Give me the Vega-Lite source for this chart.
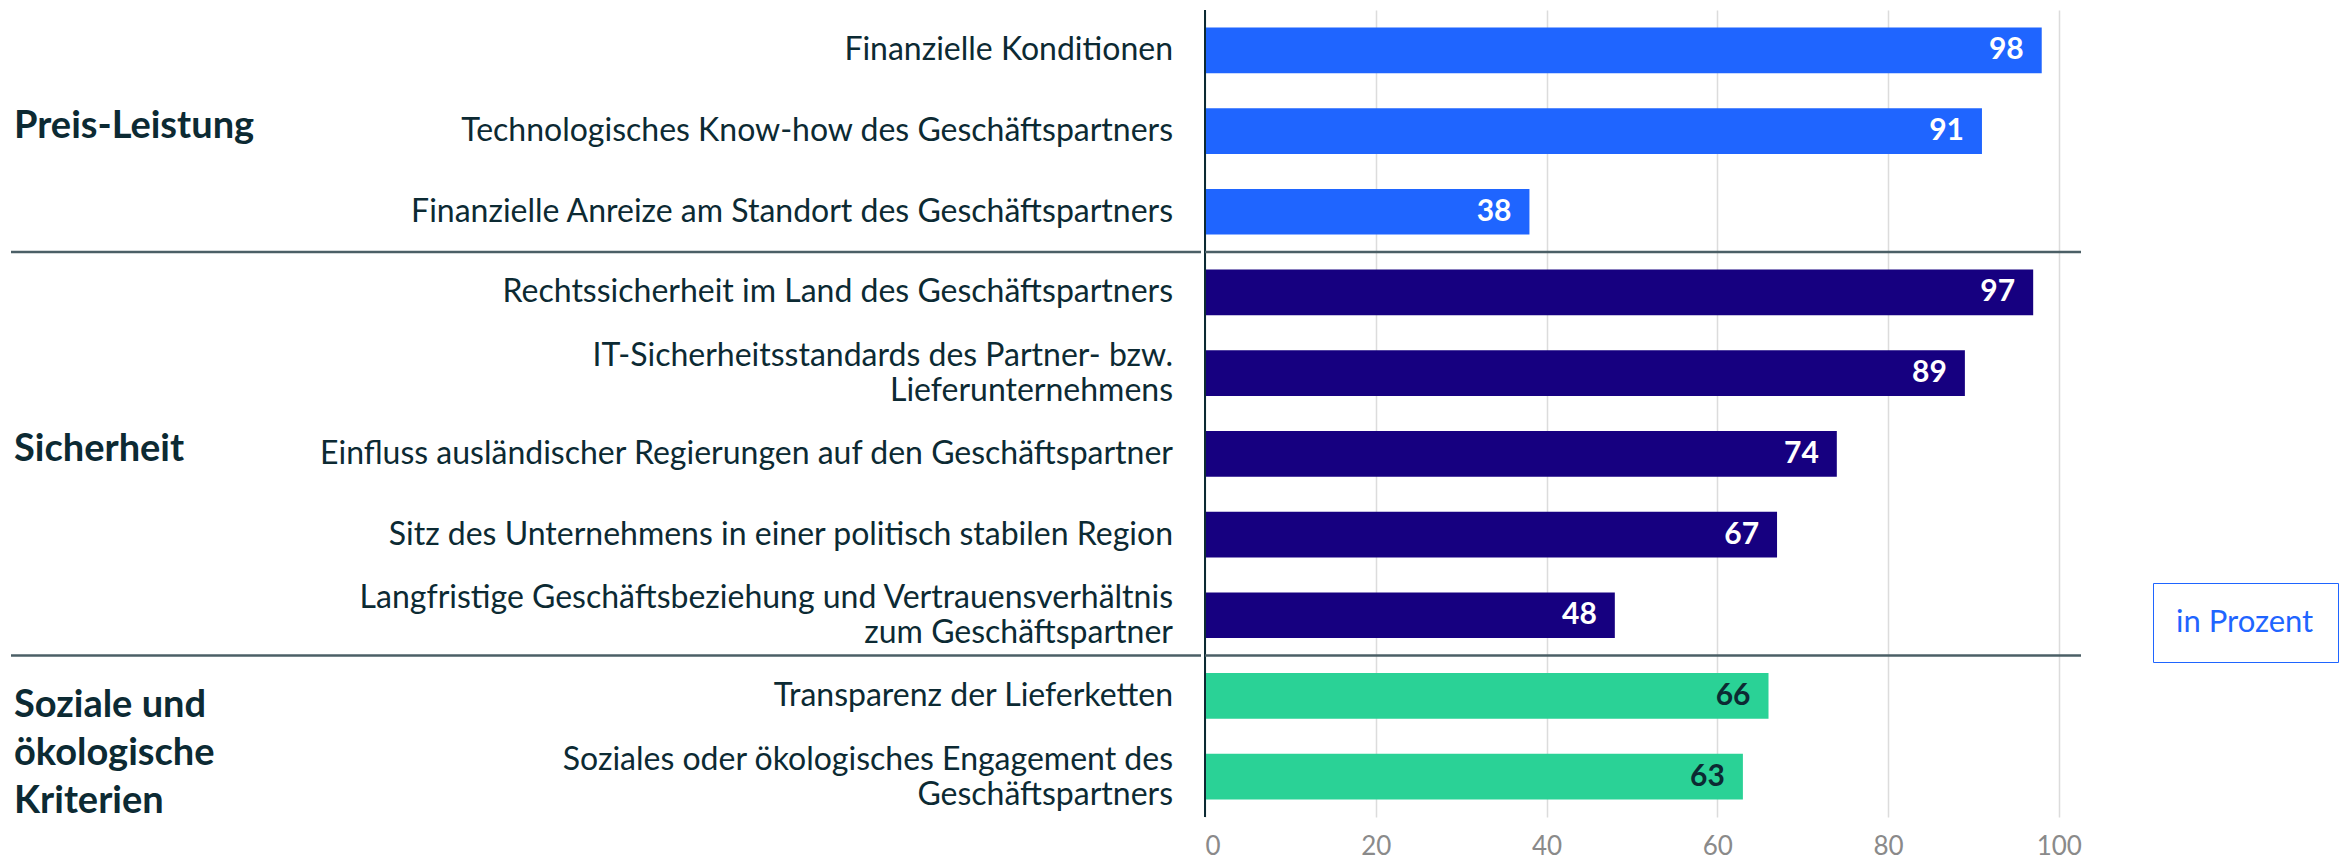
{
  "$schema": "https://vega.github.io/schema/vega-lite/v6.json",
  "padding": {"left": 9, "top": 9, "right": 0, "bottom": 0},
  "background": "white",
  "config": {"font": "Lato", "view": {"stroke": null}},
  "spacing": 0,
  "datasets": {
    "items": [
      {"rank": 0, "group": "Preis-Leistung", "item": "Finanzielle Konditionen", "value": 98},
      {"rank": 1, "group": "Preis-Leistung", "item": "Technologisches Know-how des Geschäftspartners", "value": 91},
      {"rank": 2, "group": "Preis-Leistung", "item": "Finanzielle Anreize am Standort des Geschäftspartners", "value": 38},
      {"rank": 3, "group": "Sicherheit", "item": "Rechtssicherheit im Land des Geschäftspartners", "value": 97},
      {"rank": 4, "group": "Sicherheit", "item": "IT-Sicherheitsstandards des Partner- bzw.\nLieferunternehmens", "value": 89},
      {"rank": 5, "group": "Sicherheit", "item": "Einfluss ausländischer Regierungen auf den Geschäftspartner", "value": 74},
      {"rank": 6, "group": "Sicherheit", "item": "Sitz des Unternehmens in einer politisch stabilen Region", "value": 67},
      {"rank": 7, "group": "Sicherheit", "item": "Langfristige Geschäftsbeziehung und Vertrauensverhältnis\nzum Geschäftspartner", "value": 48},
      {"rank": 8, "group": "Soziale und\nökologische\nKriterien", "item": "Transparenz der Lieferketten", "value": 66},
      {"rank": 9, "group": "Soziale und\nökologische\nKriterien", "item": "Soziales oder ökologisches Engagement des\nGeschäftspartners", "value": 63}
    ]
  },
  "hconcat": [
    {
      "width": 1190,
      "height": 807,
      "data": {"name": "items"},
      "layer": [
        {
          "transform": [
            {"aggregate": [{"op": "min", "field": "rank", "as": "start"}], "groupby": ["group"]},
            {"filter": "datum.start > 0"}
          ],
          "mark": {"type": "rule", "color": "#4b5f66", "strokeWidth": 2.5},
          "encoding": {
            "y": {"field": "start", "type": "quantitative", "scale": {"domain": [0, 10], "reverse": true, "nice": false, "zero": false}, "axis": null}
          }
        },
        {
          "transform": [
            {"aggregate": [{"op": "mean", "field": "rank", "as": "mid"}], "groupby": ["group"]},
            {"filter": "indexof(datum.group, '\\n') < 0"}
          ],
          "mark": {"type": "text", "align": "left", "baseline": "middle", "fontWeight": "bold", "fontSize": 38, "lineHeight": 48, "lineBreak": "\n", "color": "#0c2a33", "dx": 3, "dy": -4},
          "encoding": {
            "x": {"datum": 0, "type": "quantitative", "scale": {"domain": [0, 1]}, "axis": null},
            "y": {"field": "mid", "type": "quantitative", "scale": {"domain": [-0.5, 9.5], "reverse": true, "nice": false, "zero": false}, "axis": null},
            "text": {"field": "group", "type": "nominal"}
          }
        },
        {
          "transform": [
            {"aggregate": [{"op": "mean", "field": "rank", "as": "mid"}], "groupby": ["group"]},
            {"filter": "indexof(datum.group, '\\n') >= 0"}
          ],
          "mark": {"type": "text", "align": "left", "baseline": "middle", "fontWeight": "bold", "fontSize": 38, "lineHeight": 48, "lineBreak": "\n", "color": "#0c2a33", "dx": 3, "dy": -30},
          "encoding": {
            "x": {"datum": 0, "type": "quantitative", "scale": {"domain": [0, 1]}, "axis": null},
            "y": {"field": "mid", "type": "quantitative", "scale": {"domain": [-0.5, 9.5], "reverse": true, "nice": false, "zero": false}, "axis": null},
            "text": {"field": "group", "type": "nominal"}
          }
        },
        {
          "transform": [{"filter": "indexof(datum.item, '\\n') < 0"}],
          "mark": {"type": "text", "align": "right", "baseline": "middle", "fontSize": 32, "lineHeight": 35, "lineBreak": "\n", "color": "#0c2a33", "dx": -28},
          "encoding": {
            "x": {"datum": 1, "type": "quantitative", "scale": {"domain": [0, 1]}, "axis": null},
            "y": {"field": "item", "type": "nominal", "sort": null, "scale": {"domain": {"data": "items", "field": "item"}, "paddingInner": 0.434, "paddingOuter": 0.217}, "axis": null},
            "text": {"field": "item", "type": "nominal"}
          }
        },
        {
          "transform": [{"filter": "indexof(datum.item, '\\n') >= 0"}],
          "mark": {"type": "text", "align": "right", "baseline": "middle", "fontSize": 32, "lineHeight": 35, "lineBreak": "\n", "color": "#0c2a33", "dx": -28, "dy": -17},
          "encoding": {
            "x": {"datum": 1, "type": "quantitative", "scale": {"domain": [0, 1]}, "axis": null},
            "y": {"field": "item", "type": "nominal", "sort": null, "scale": {"domain": {"data": "items", "field": "item"}, "paddingInner": 0.434, "paddingOuter": 0.217}, "axis": null},
            "text": {"field": "item", "type": "nominal"}
          }
        }
      ],
      "resolve": {"scale": {"y": "independent"}}
    },
    {
      "width": 876,
      "height": 807,
      "data": {"name": "items"},
      "layer": [
        {
          "mark": {"type": "bar"},
          "encoding": {
            "y": {"field": "item", "type": "nominal", "sort": null, "scale": {"paddingInner": 0.434, "paddingOuter": 0.217}, "axis": null},
            "x": {
              "field": "value", "type": "quantitative",
              "scale": {"domain": [0, 102.6], "nice": false},
              "axis": {"values": [0, 20, 40, 60, 80, 100], "grid": true, "gridColor": "#dcdcdc", "gridWidth": 1.5, "domain": false, "ticks": false, "tickSize": 0, "labelFontSize": 26, "labelColor": "#8a8a8a", "labelPadding": 16, "title": null}
            },
            "color": {
              "field": "group", "type": "nominal",
              "scale": {"domain": ["Preis-Leistung", "Sicherheit", "Soziale und\nökologische\nKriterien"], "range": ["#1f65ff", "#160080", "#2ad296"]},
              "legend": null
            }
          }
        },
        {
          "mark": {"type": "text", "align": "right", "baseline": "middle", "dx": -18, "fontSize": 30, "fontWeight": "bold"},
          "encoding": {
            "y": {"field": "item", "type": "nominal", "sort": null, "axis": null},
            "x": {"field": "value", "type": "quantitative"},
            "text": {"field": "value", "type": "quantitative"},
            "color": {"condition": {"test": "indexof(datum.group, 'Soziale') === 0", "value": "#0c2a33"}, "value": "#ffffff"}
          }
        },
        {
          "mark": {"type": "rule", "color": "#0c2a33", "strokeWidth": 2},
          "encoding": {"x": {"datum": 0, "type": "quantitative"}}
        },
        {
          "transform": [
            {"aggregate": [{"op": "min", "field": "rank", "as": "start"}], "groupby": ["group"]},
            {"filter": "datum.start > 0"}
          ],
          "mark": {"type": "rule", "color": "#4b5f66", "strokeWidth": 2.5},
          "encoding": {
            "y": {"field": "start", "type": "quantitative", "scale": {"domain": [0, 10], "reverse": true, "nice": false, "zero": false}, "axis": null}
          }
        },
        {
          "mark": {"type": "point", "opacity": 0},
          "encoding": {
            "shape": {
              "datum": "in Prozent", "type": "nominal",
              "legend": {
                "title": null, "orient": "none", "legendX": 2142, "legendY": 573,
                "labelFontSize": 31, "labelColor": "#1f65ff", "labelOffset": -32,
                "symbolSize": 0, "symbolOpacity": 0, "symbolStrokeWidth": 0,
                "strokeColor": "#1f65ff", "padding": 24, "cornerRadius": 0,
                "encode": {"legend": {"update": {"strokeWidth": {"value": 2}}}}
              }
            }
          }
        }
      ],
      "resolve": {"scale": {"y": "independent"}}
    }
  ]
}
